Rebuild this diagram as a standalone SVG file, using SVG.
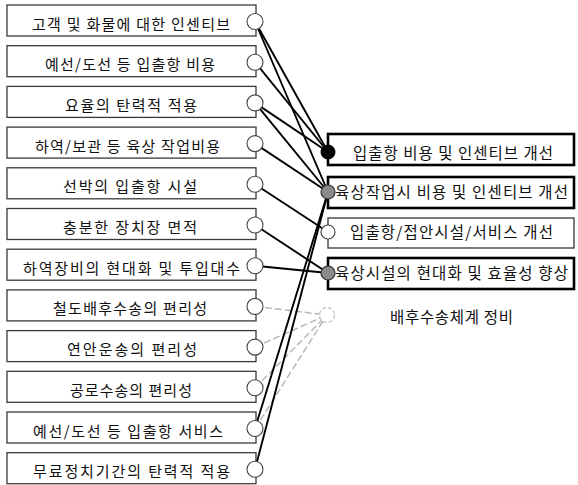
<svg xmlns="http://www.w3.org/2000/svg" width="578" height="485" viewBox="0 0 578 485">
<style>
.lb{fill:#fff;stroke:#3a3a3a;stroke-width:1.3}
.lt{font-family:"Noto Sans CJK KR","Noto Sans",sans-serif;font-size:15px;fill:#111;text-anchor:middle}
.rt{font-family:"Noto Sans CJK KR","Noto Sans",sans-serif;font-size:15.5px;fill:#111;text-anchor:middle}
.lc{fill:#fff;stroke:#444;stroke-width:1.1}
.rb{fill:#fff;stroke:#000;stroke-width:2.6}
.rb2{fill:#fff;stroke:#444;stroke-width:1.4}
.c{stroke:#000;stroke-width:1.9;fill:none}
.f{stroke:#b8b8b8;stroke-width:1.5;fill:none;stroke-dasharray:7 3}
</style>
<rect width="578" height="485" fill="#fff"/>
<g id="connectors">
<line class="c" x1="255" y1="21.5" x2="328" y2="152"/>
<line class="c" x1="255" y1="21.5" x2="328" y2="192"/>
<line class="c" x1="255" y1="62.2" x2="328" y2="152"/>
<line class="c" x1="255" y1="102.9" x2="328" y2="152"/>
<line class="c" x1="255" y1="102.9" x2="328" y2="192"/>
<line class="c" x1="255" y1="143.6" x2="328" y2="192"/>
<line class="c" x1="255" y1="184.3" x2="328" y2="232"/>
<line class="c" x1="255" y1="225" x2="328" y2="273"/>
<line class="c" x1="255" y1="265.7" x2="328" y2="273"/>
<line class="f" x1="255" y1="306.4" x2="327" y2="315"/>
<line class="f" x1="255" y1="347.1" x2="327" y2="315"/>
<line class="f" x1="255" y1="387.8" x2="327" y2="315"/>
<line class="f" x1="255" y1="428.5" x2="327" y2="315"/>
<line class="c" x1="255" y1="428.5" x2="328" y2="192"/>
<line class="c" x1="255" y1="469.2" x2="328" y2="192"/>
</g>
<g id="n1"><rect class="lb" x="7" y="5" width="249" height="31"/><circle class="lc" cx="255" cy="21.5" r="8"/><text class="lt" x="131" y="29.5" textLength="198" lengthAdjust="spacing">고객 및 화물에 대한 인센티브</text></g>
<g id="n2"><rect class="lb" x="7" y="45.7" width="249" height="31"/><circle class="lc" cx="255" cy="62.2" r="8"/><text class="lt" x="130" y="70.2" textLength="170" lengthAdjust="spacing">예선/도선 등 입출항 비용</text></g>
<g id="n3"><rect class="lb" x="7" y="86.4" width="249" height="31"/><circle class="lc" cx="255" cy="102.9" r="8"/><text class="lt" x="131" y="110.9" textLength="132" lengthAdjust="spacing">요율의 탄력적 적용</text></g>
<g id="n4"><rect class="lb" x="7" y="127.1" width="249" height="31"/><circle class="lc" cx="255" cy="143.6" r="8"/><text class="lt" x="127.5" y="151.6" textLength="185" lengthAdjust="spacing">하역/보관 등 육상 작업비용</text></g>
<g id="n5"><rect class="lb" x="7" y="167.8" width="249" height="31"/><circle class="lc" cx="255" cy="184.3" r="8"/><text class="lt" x="130" y="192.3" textLength="134" lengthAdjust="spacing">선박의 입출항 시설</text></g>
<g id="n6"><rect class="lb" x="7" y="208.5" width="249" height="31"/><circle class="lc" cx="255" cy="225" r="8"/><text class="lt" x="130" y="233" textLength="134" lengthAdjust="spacing">충분한 장치장 면적</text></g>
<g id="n7"><rect class="lb" x="7" y="249.2" width="249" height="31"/><circle class="lc" cx="255" cy="265.7" r="8"/><text class="lt" x="131.5" y="273.7" textLength="217" lengthAdjust="spacing">하역장비의 현대화 및 투입대수</text></g>
<g id="n8"><rect class="lb" x="7" y="289.9" width="249" height="31"/><circle class="lc" cx="255" cy="306.4" r="8"/><text class="lt" x="130" y="314.4" textLength="154" lengthAdjust="spacing">철도배후수송의 편리성</text></g>
<g id="n9"><rect class="lb" x="7" y="330.6" width="249" height="31"/><circle class="lc" cx="255" cy="347.1" r="8"/><text class="lt" x="132" y="355.1" textLength="130" lengthAdjust="spacing">연안운송의 편리성</text></g>
<g id="n10"><rect class="lb" x="7" y="371.3" width="249" height="31"/><circle class="lc" cx="255" cy="387.8" r="8"/><text class="lt" x="131" y="395.8" textLength="122" lengthAdjust="spacing">공로수송의 편리성</text></g>
<g id="n11"><rect class="lb" x="7" y="412" width="249" height="31"/><circle class="lc" cx="255" cy="428.5" r="8"/><text class="lt" x="128" y="436.5" textLength="190" lengthAdjust="spacing">예선/도선 등 입출항 서비스</text></g>
<g id="n12"><rect class="lb" x="7" y="452.7" width="249" height="31"/><circle class="lc" cx="255" cy="469.2" r="8"/><text class="lt" x="131.5" y="477.2" textLength="197" lengthAdjust="spacing">무료정치기간의 탄력적 적용</text></g>
<g id="rA"><rect class="rb" x="328" y="134" width="246" height="31"/><circle cx="328" cy="152" r="7" fill="#000" stroke="#000"/><text class="rt" x="453" y="159" textLength="200" lengthAdjust="spacing">입출항 비용 및 인센티브 개선</text></g>
<g id="rB"><rect class="rb" x="328" y="177" width="246" height="31"/><circle cx="328" cy="192" r="7" fill="#8a8a8a" stroke="#333" stroke-width="1.2"/><text class="rt" x="451.5" y="198" textLength="233" lengthAdjust="spacing">육상작업시 비용 및 인센티브 개선</text></g>
<g id="rC"><rect class="rb2" x="328" y="218" width="246" height="30"/><circle cx="328" cy="232" r="7" fill="#fff" stroke="#444" stroke-width="1.2"/><text class="rt" x="451.5" y="238" textLength="203" lengthAdjust="spacing">입출항/접안시설/서비스 개선</text></g>
<g id="rD"><rect class="rb" x="328" y="258" width="246" height="31"/><circle cx="328" cy="273" r="7" fill="#8a8a8a" stroke="#333" stroke-width="1.2"/><text class="rt" x="451.5" y="279" textLength="233" lengthAdjust="spacing">육상시설의 현대화 및 효율성 향상</text></g>
<g id="rE"><circle cx="327" cy="315" r="7.5" fill="#fff" stroke="#c0c0c0" stroke-width="1.2" stroke-dasharray="4 2"/><text class="rt" x="451.5" y="323" textLength="123" lengthAdjust="spacing">배후수송체계 정비</text></g>
</svg>
